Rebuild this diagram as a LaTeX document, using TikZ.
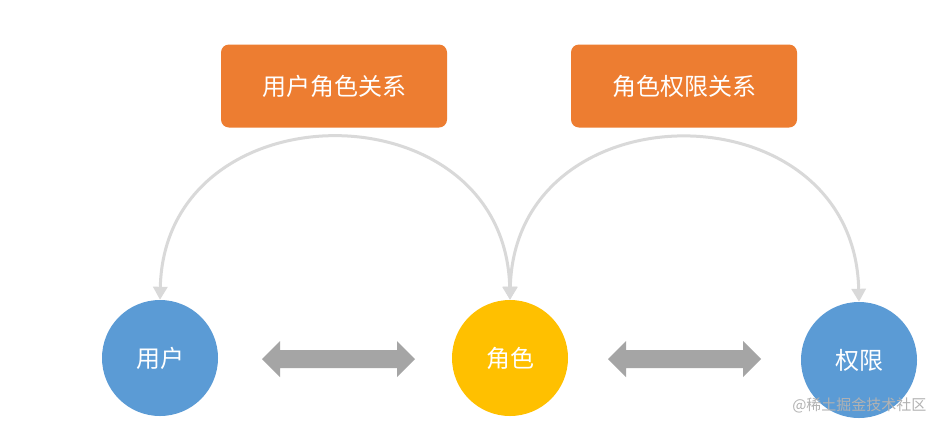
\documentclass[tikz,border=0pt]{standalone}
\usepackage{fontspec}
\newfontfamily\cjk{Noto Sans CJK SC}
\usetikzlibrary{arrows.meta}
\definecolor{orng}{HTML}{ED7D31}
\definecolor{blu}{HTML}{5B9BD5}
\definecolor{yel}{HTML}{FFC000}
\definecolor{arcg}{HTML}{D9D9D9}
\definecolor{dg}{HTML}{A5A5A5}
\begin{document}
\begin{tikzpicture}[x=1pt,y=-1pt,
  lbl/.style={fill=orng,rounded corners=8pt,minimum width=226pt,minimum height=83pt,text=white,font=\cjk\fontsize{24}{28}\selectfont},
  circ/.style={circle,minimum size=116pt,inner sep=0pt,text=white,font=\cjk\fontsize{24}{28}\selectfont},
  dblarrow/.style={fill=dg},
  arc/.style={draw=arcg,line width=3pt,{Triangle[length=13pt,width=14pt]}-{Triangle[length=13pt,width=14pt]}}]
\useasboundingbox (0,0) rectangle (935,421);
\fill[white] (0,0) rectangle (935,421);
\node[lbl] (b1) at (334,86) {用户角色关系};
\node[lbl] (b2) at (684,86) {角色权限关系};
\node[circ,fill=blu] (u) at (160,358) {用户};
\node[circ,fill=yel] (r) at (510,358) {角色};
\node[circ,fill=blu] (p) at (859,360) {权限};
\fill[dblarrow] (262,359) -- (280,341) -- (280,350) -- (397,350) -- (397,341) -- (415,359) -- (397,377) -- (397,368) -- (280,368) -- (280,377) -- cycle;
\fill[dblarrow] (608,359) -- (626,341) -- (626,350) -- (743,350) -- (743,341) -- (761,359) -- (743,377) -- (743,368) -- (626,368) -- (626,377) -- cycle;
\draw[arc] (r.north) .. controls (505,85) and (165,85) .. (u.north);
\draw[arc] (r.north) .. controls (515,85) and (854,85) .. (p.north);
\node[text=gray!60,font=\cjk\fontsize{15}{17}\selectfont,anchor=east] (wm) at (930,405) {@稀土掘金技术社区};
\end{tikzpicture}
\end{document}
